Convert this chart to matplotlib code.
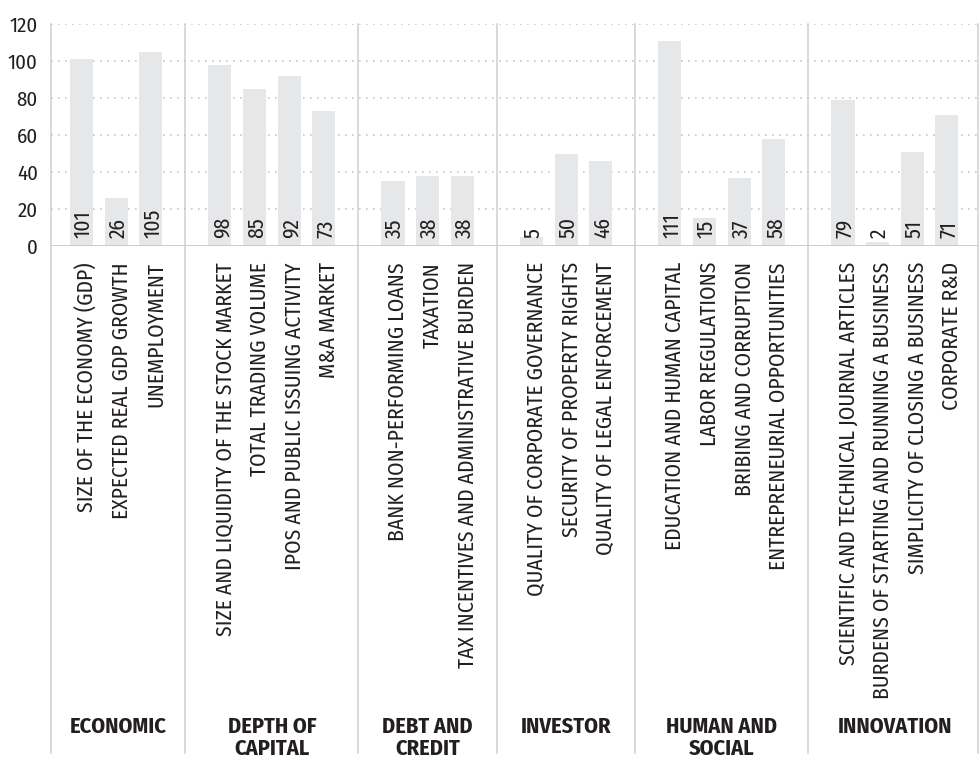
import matplotlib.pyplot as plt
import matplotlib.transforms as mtransforms

plt.rcParams['font.family'] = ['Fira Sans Condensed', 'DejaVu Sans']

groups = ['ECONOMIC', 'DEPTH OF\nCAPITAL', 'DEBT AND\nCREDIT', 'INVESTOR',
          'HUMAN AND\nSOCIAL', 'INNOVATION']

economic_labels = ['SIZE OF THE ECONOMY (GDP)', 'EXPECTED REAL GDP GROWTH', 'UNEMPLOYMENT']
economic_values = [101, 26, 105]

capital_labels = ['SIZE AND LIQUIDITY OF THE STOCK MARKET', 'TOTAL TRADING VOLUME',
                  'IPOS AND PUBLIC ISSUING ACTIVITY', 'M&A MARKET']
capital_values = [98, 85, 92, 73]

debt_labels = ['BANK NON-PERFORMING LOANS', 'TAXATION',
               'TAX INCENTIVES AND ADMINISTRATIVE BURDEN']
debt_values = [35, 38, 38]

investor_labels = ['QUALITY OF CORPORATE GOVERNANCE', 'SECURITY OF PROPERTY RIGHTS',
                   'QUALITY OF LEGAL ENFORCEMENT']
investor_values = [5, 50, 46]

human_labels = ['EDUCATION AND HUMAN CAPITAL', 'LABOR REGULATIONS',
                'BRIBING AND CORRUPTION', 'ENTREPRENEURIAL OPPORTUNITIES']
human_values = [111, 15, 37, 58]

innovation_labels = ['SCIENTIFIC AND TECHNICAL JOURNAL ARTICLES',
                     'BURDENS OF STARTING AND RUNNING A BUSINESS',
                     'SIMPLICITY OF CLOSING A BUSINESS', 'CORPORATE R&D']
innovation_values = [79, 2, 51, 71]

group_labels = [economic_labels, capital_labels, debt_labels,
                investor_labels, human_labels, innovation_labels]
group_values = [economic_values, capital_values, debt_values,
                investor_values, human_values, innovation_values]

text_color = '#231f20'
bar_color = '#e6e7e8'
line_color = '#d0d0d0'

fig = plt.figure(figsize=(9.8, 7.62), dpi=100)
ax = fig.add_axes([51 / 980, 1 - 246 / 762, (978 - 51) / 980, 222 / 762])

xlo, xhi = -0.88, 25.9
ax.set_xlim(xlo, xhi)
ax.set_ylim(0, 120)

trans = mtransforms.blended_transform_factory(ax.transData, ax.transAxes)
line_bottom = (246 - 753) / 222

pos = 0
separators = [xlo]
centers = []
for name, labels, values in zip(groups, group_labels, group_values):
    xs = list(range(pos, pos + len(values)))
    ax.bar(xs, values, width=0.665, color=bar_color, zorder=2)
    for x, lab, v in zip(xs, labels, values):
        ax.text(x + 0.06, 4.5, str(v), rotation=90, ha='center', va='bottom',
                fontsize=15.5, color=text_color, zorder=3)
        ax.text(x + 0.15, (246 - 262) / 222, lab, rotation=90, ha='center', va='top',
                fontsize=15.5, color=text_color, transform=trans)
    pos += len(values)
    centers.append((separators[-1] + pos) / 2)
    separators.append(pos)
    pos += 1
separators[-1] = xhi

for name, c in zip(groups, centers):
    ax.text(c, (246 - 716) / 222, name, ha='center', va='top', fontsize=16,
            fontweight='bold', color=text_color, transform=trans, linespacing=1.05)

for s in separators:
    ax.plot([s, s], [1, line_bottom], color=line_color, lw=1.1,
            transform=trans, clip_on=False, zorder=1)

# dotted grid + solid base line
for y in range(20, 121, 20):
    ax.axhline(y, color='#c8c8c8', lw=1.2, linestyle=(0, (1, 3.2)), zorder=1)
ax.axhline(0, color='#c8c8c8', lw=1.3, zorder=3)

for sp in ax.spines.values():
    sp.set_visible(False)
ax.set_xticks([])
ax.set_yticks(range(0, 121, 20))
ax.tick_params(axis='y', length=0, pad=9.5, labelsize=15, labelcolor=text_color)

fig.savefig('out.png', dpi=100)
